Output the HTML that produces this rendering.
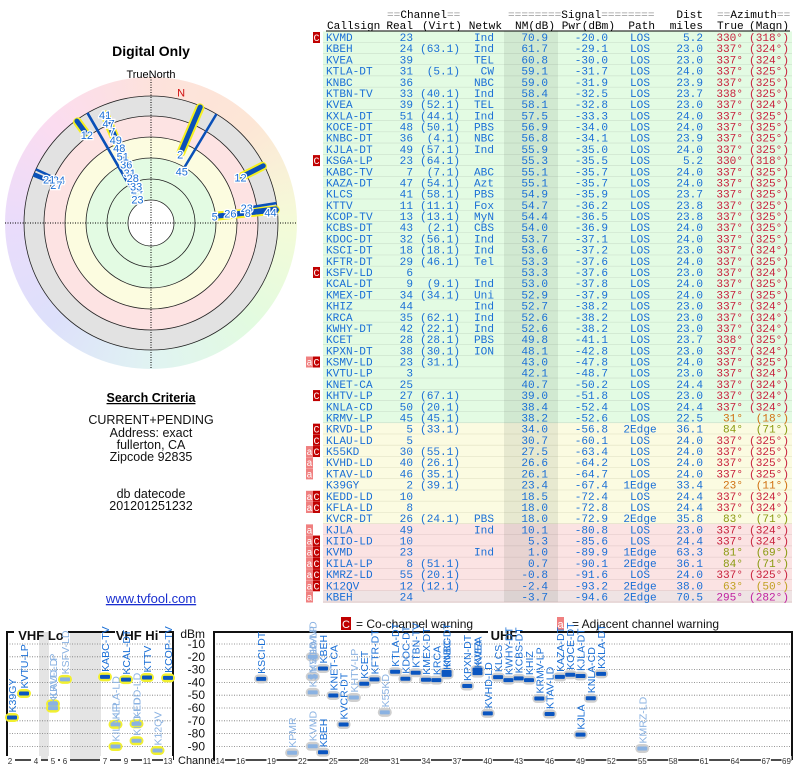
<!DOCTYPE html>
<html><head><meta charset="utf-8">
<style>
html,body{margin:0;padding:0;background:#fff;width:800px;height:768px;overflow:hidden}
svg{position:absolute;left:0;top:0}
.mono{font-family:"Liberation Mono",monospace;font-size:11.1px}
.sans{font-family:"Liberation Sans",sans-serif}
#rainbow{position:absolute;left:5px;top:77px;width:292px;height:292px;border-radius:50%;
background:conic-gradient(#fde2dc 0deg,#fde6d6 45deg,#f4fbd8 90deg,#e2fbe0 135deg,#e0f3f2 180deg,#dde0fb 225deg,#eadcfb 270deg,#fbdcf0 315deg,#fde2dc 360deg)}
</style></head>
<body>
<div id="rainbow"></div>
<svg id="main" width="800" height="768"></svg>
<script>
// ===== Table data =====
const callsigns=["KVMD","KBEH","KVEA","KTLA-DT","KNBC","KTBN-TV","KVEA","KXLA-DT","KOCE-DT","KNBC-DT","KJLA-DT","KSGA-LP","KABC-TV","KAZA-DT","KLCS","KTTV","KCOP-TV","KCBS-DT","KDOC-DT","KSCI-DT","KFTR-DT","KSFV-LD","KCAL-DT","KMEX-DT","KHIZ","KRCA","KWHY-DT","KCET","KPXN-DT","KSMV-LD","KVTU-LP","KNET-CA","KHTV-LP","KNLA-CD","KRMV-LP","KRVD-LP","KLAU-LD","K55KD","KVHD-LD","KTAV-LD","K39GY","KEDD-LD","KFLA-LD","KVCR-DT","KJLA","KIIO-LD","KVMD","KILA-LP","KMRZ-LD","K12QV","KBEH"];
const realCh=[23,24,39,31,36,33,39,51,48,36,49,23,7,47,41,11,13,43,32,18,29,6,9,34,44,35,42,28,38,23,3,25,27,50,45,5,5,30,40,46,2,10,8,26,49,10,23,8,55,12,24];
const virtCh=["","(63.1)","","(5.1)","","(40.1)","(52.1)","(44.1)","(50.1)","(4.1)","(57.1)","(64.1)","(7.1)","(54.1)","(58.1)","(11.1)","(13.1)","(2.1)","(56.1)","(18.1)","(46.1)","","(9.1)","(34.1)","","(62.1)","(22.1)","(28.1)","(30.1)","(31.1)","","","(67.1)","(20.1)","(45.1)","(33.1)","","(55.1)","(26.1)","(35.1)","(39.1)","","","(24.1)","","","","(51.1)","(20.1)","(12.1)",""];
const networks=["Ind","Ind","TEL","CW","NBC","Ind","TEL","Ind","PBS","NBC","Ind","","ABC","Azt","PBS","Fox","MyN","CBS","Ind","Ind","Tel","","Ind","Uni","Ind","Ind","Ind","PBS","ION","","","","","","","","","","","","","","","PBS","Ind","","Ind","","","",""];
const nmDb=[70.9,61.7,60.8,59.1,59.0,58.4,58.1,57.5,56.9,56.8,55.9,55.3,55.1,55.1,54.9,54.7,54.4,54.0,53.7,53.6,53.3,53.3,53.0,52.9,52.7,52.6,52.6,49.8,48.1,43.0,42.1,40.7,39.0,38.4,38.2,34.0,30.7,27.5,26.6,26.1,23.4,18.5,18.0,18.0,10.1,5.3,1.0,0.7,-0.8,-2.4,-3.7];
const pwrDbm=[-20.0,-29.1,-30.0,-31.7,-31.9,-32.5,-32.8,-33.3,-34.0,-34.1,-35.0,-35.5,-35.7,-35.7,-35.9,-36.2,-36.5,-36.9,-37.1,-37.2,-37.6,-37.6,-37.8,-37.9,-38.2,-38.2,-38.2,-41.1,-42.8,-47.8,-48.7,-50.2,-51.8,-52.4,-52.6,-56.8,-60.1,-63.4,-64.2,-64.7,-67.4,-72.4,-72.8,-72.9,-80.8,-85.6,-89.9,-90.1,-91.6,-93.2,-94.6];
const paths=["LOS","LOS","LOS","LOS","LOS","LOS","LOS","LOS","LOS","LOS","LOS","LOS","LOS","LOS","LOS","LOS","LOS","LOS","LOS","LOS","LOS","LOS","LOS","LOS","LOS","LOS","LOS","LOS","LOS","LOS","LOS","LOS","LOS","LOS","LOS","2Edge","LOS","LOS","LOS","LOS","1Edge","LOS","LOS","2Edge","LOS","LOS","1Edge","2Edge","LOS","2Edge","2Edge"];
const distMiles=[5.2,23.0,23.0,24.0,23.9,23.7,23.0,24.0,24.0,23.9,24.0,5.2,24.0,24.0,23.7,23.8,23.8,24.0,24.0,23.0,24.0,23.0,24.0,24.0,23.0,23.0,23.0,23.7,23.0,24.0,23.0,24.4,23.0,24.4,22.5,36.1,24.0,24.0,24.0,24.0,33.4,24.4,24.4,35.8,23.0,24.4,63.3,36.1,24.0,38.0,70.5];
const azTrue=[330,337,337,337,337,338,337,337,337,337,337,330,337,337,337,337,337,337,337,337,337,337,337,337,337,337,337,338,337,337,337,337,337,337,31,84,337,337,337,337,23,337,337,83,337,337,81,84,337,63,295];
const azMagn=[318,324,324,325,325,325,324,325,325,325,325,318,325,325,325,325,325,325,325,324,325,324,325,325,324,324,324,325,324,325,324,324,324,324,18,71,325,325,325,325,11,324,324,71,324,324,69,71,325,50,282];
const warnAdj=[0,0,0,0,0,0,0,0,0,0,0,0,0,0,0,0,0,0,0,0,0,0,0,0,0,0,0,0,0,1,0,0,0,0,0,0,0,1,1,1,0,1,1,0,1,1,1,1,1,1,1];
const warnCo=[1,0,0,0,0,0,0,0,0,0,0,1,0,0,0,0,0,0,0,0,0,1,0,0,0,0,0,0,0,1,0,0,1,0,0,1,1,1,0,0,0,1,1,0,0,1,1,1,1,1,0];

// ===== Bottom chart extra data (stations visible only in graph) =====
const extraLabels=["KPMR"];
const extraCh=[21];
const extraPwr=[-95];
const extraCo=[1];
const dbmTicks=[-10,-20,-30,-40,-50,-60,-70,-80,-90];
const vhfTickLabels=[2,4,5,6,7,9,11,13];
const uhfTickLabels=[14,16,19,22,25,28,31,34,37,40,43,46,49,52,55,58,61,64,67,69];

// ===== Polar extra stations (graph only) =====
const polarExtraLabel=["27","21","12","44"];
const polarExtraAz=[292,293,324,85];
const polarExtraNM=[-4,-4,-11,-25];

const NS="http://www.w3.org/2000/svg";
const svg=document.getElementById('main');
function mk(tag,attrs,parent){const e=document.createElementNS(NS,tag);for(const k in attrs)e.setAttribute(k,attrs[k]);(parent||svg).appendChild(e);return e;}
function txt(x,y,s,attrs,parent){const e=mk('text',Object.assign({x:x,y:y},attrs),parent);e.textContent=s;return e;}

// ===== Table =====
const rowY0=37, rowH=11.19;
const gT=mk('g',{});


function rowBg(i){return i<35?'#e3fbe3':(i<44?'#fbfbe1':(i<50?'#fbe3e3':'#efe3e4'));}
function azColor(a){if(a>=330&&a<=338)return '#c8203c';if(a===295)return '#c020a0';if(a===31||a===23)return '#d07010';if(a===63)return '#c0a020';return '#8a9a10';}
for(let i=0;i<callsigns.length;i++){
  const cy=rowY0+i*rowH;
  const r=mk('rect',{x:323,y:cy-rowH/2,width:469,height:rowH,fill:rowBg(i)},gT);
  
  
  mk('line',{x1:323,x2:792,y1:cy+rowH/2,y2:cy+rowH/2,stroke:i<35?'#c6dac6':(i<44?'#dcdcc0':'#dcc4c4'),'stroke-width':1},gT);
}
const nmShade=mk('rect',{x:504,y:rowY0-rowH/2,width:54,height:rowH*callsigns.length,fill:'rgba(60,80,60,0.1)'},gT);


const B='#1a6fd6';
for(let i=0;i<callsigns.length;i++){
  const y=rowY0+i*rowH+4;
  const g=mk('g',{class:'mono'},gT);
  
  
  txt(326,y,callsigns[i],{fill:B},g);
  txt(413,y,String(realCh[i]),{fill:B,'text-anchor':'end'},g);
  if(virtCh[i])txt(460,y,virtCh[i],{fill:B,'text-anchor':'end'},g);
  if(networks[i])txt(494,y,networks[i],{fill:B,'text-anchor':'end'},g);
  txt(548,y,nmDb[i].toFixed(1),{fill:B,'text-anchor':'end'},g);
  txt(608,y,pwrDbm[i].toFixed(1),{fill:B,'text-anchor':'end'},g);
  txt(640,y,paths[i],{fill:B,'text-anchor':'middle'},g);
  txt(703,y,distMiles[i].toFixed(1),{fill:B,'text-anchor':'end'},g);
  txt(743,y,azTrue[i]+'°',{fill:azColor(azTrue[i]),'text-anchor':'end'},g);
  txt(789,y,'('+azMagn[i]+'°)',{fill:azColor(azTrue[i]),'text-anchor':'end'},g);
  if(warnCo[i]){const c=mk('rect',{x:313,y:y-9,width:7,height:11,fill:'#c00000'},g);
    
    
    txt(316.5,y,'C',{fill:'#fff','text-anchor':'middle','font-size':'10px'},g);}
  if(warnAdj[i]){const a=mk('rect',{x:306,y:y-9,width:7,height:11,fill:'#f08080'},g);
    
    
    txt(309.5,y,'a',{fill:'#fff','text-anchor':'middle','font-size':'10px'},g);}
}
// headers
const gH=mk('g',{class:'mono'});


function hdr(x,y,parts,anchor){const t=mk('text',{x:x,y:y,'text-anchor':anchor||'start'},gH);parts.forEach(p=>{const s=mk('tspan',{fill:p[1]},t);s.textContent=p[0];});}
const GR='#999';
hdr(387,18,[['==',GR],['Channel','#000'],['==',GR]]);
hdr(508,18,[['========',GR],['Signal','#000'],['========',GR]]);
hdr(703,18,[['Dist','#000']],'end');
hdr(717,18,[['==',GR],['Azimuth','#000'],['==',GR]]);
hdr(327,29,[['Callsign','#000']]);
hdr(413,29,[['Real','#000']],'end');
hdr(422,29,[['(Virt)','#000']]);
hdr(502,29,[['Netwk','#000']],'end');
hdr(555,29,[['NM(dB)','#000']],'end');
hdr(615,29,[['Pwr(dBm)','#000']],'end');
hdr(655,29,[['Path','#000']],'end');
hdr(703,29,[['miles','#000']],'end');
hdr(717,29,[['True','#000']]);
hdr(789,29,[['(Magn)','#000']],'end');
mk('line',{x1:326,x2:790,y1:31,y2:31,stroke:'#000','stroke-width':1},gH);

// ===== Left text =====
const gL=mk('g',{class:'sans','text-anchor':'middle'});


const t1=txt(151,56,'Digital Only',{'font-size':'14px','font-weight':'bold'},gL);


txt(151,78,'TrueNorth',{'font-size':'11px'},gL);
const sc=txt(151,402,'Search Criteria',{'font-size':'12.5px','font-weight':'bold','text-decoration':'underline'},gL);


[['CURRENT+PENDING',424],['Address: exact',437],['fullerton, CA',449],['Zipcode 92835',461],['db datecode',498],['201201251232',510]].forEach(p=>txt(151,p[1],p[0],{'font-size':'12.5px',fill:'#111'},gL));
const lnk=txt(151,603,'www.tvfool.com',{'font-size':'13px',fill:'#1a2fd0','text-decoration':'underline'},gL);



// ===== Polar chart =====
const PCX=151,PCY=223;
const gP=mk('g',{});


[[127,'#e2e2e2'],[107,'#fde3e3'],[86,'#fcfce0'],[65,'#e3fbe3'],[23,'#ffffff']].forEach(c=>mk('circle',{cx:PCX,cy:PCY,r:c[0],fill:c[1]},gP));
[127,107,86,65,44,23].forEach(r=>mk('circle',{cx:PCX,cy:PCY,r:r,fill:'none',stroke:'#222','stroke-width':0.8},gP));
mk('line',{x1:PCX-146,x2:PCX+146,y1:PCY,y2:PCY,stroke:'#000','stroke-dasharray':'1,1.5','stroke-width':1},gP);
mk('line',{x1:PCX,x2:PCX,y1:PCY-146,y2:PCY+146,stroke:'#000','stroke-dasharray':'1,1.5','stroke-width':1},gP);
{const a=13*Math.PI/180;const n=txt(PCX+134*Math.sin(a),PCY-134*Math.cos(a)+4,'N',{fill:'#d01010','font-size':'11px','text-anchor':'middle',class:'sans'},gP);

}
function rOf(nm){return Math.max(26,Math.min(122,100-nm));}
function pt(az,r){const a=az*Math.PI/180;return [PCX+r*Math.sin(a),PCY-r*Math.cos(a)];}
const polarAll=[];
for(let i=0;i<callsigns.length;i++)polarAll.push({az:azTrue[i],nm:nmDb[i],lab:String(realCh[i]),vhf:realCh[i]<=13});
for(let i=0;i<polarExtraLabel.length;i++)polarAll.push({az:polarExtraAz[i],nm:polarExtraNM[i],lab:polarExtraLabel[i],vhf:+polarExtraLabel[i]<=13});
polarAll.forEach(s=>{if(!s.vhf)return;const a=pt(s.az,rOf(s.nm)),b=pt(s.az,s.az>330&&s.az<340?117:125);
  const h=mk('line',{x1:a[0],y1:a[1],x2:b[0],y2:b[1],stroke:'#f5f020','stroke-width':9,'stroke-linecap':'round'},gP);
  
  });
polarAll.forEach(s=>{const a=pt(s.az,rOf(s.nm)),b=pt(s.az,s.az>330&&s.az<340?117:126);
  const l=mk('line',{x1:a[0],y1:a[1],x2:b[0],y2:b[1],stroke:'#0a50b8','stroke-width':s.vhf?5:2.5,'stroke-linecap':'round'},gP);
  
  });
// labels, stacked along same azimuth (unique channels, within plot)
const usedR={}, seen={};
polarAll.slice().sort((p,q)=>rOf(p.nm)-rOf(q.nm)).forEach(s=>{
  const key=Math.round(s.az/3);
  if(seen[key+'_'+s.lab])return;
  let r=rOf(s.nm)-2;
  if(usedR[key]!==undefined&&r<usedR[key]+9)r=usedR[key]+9;
  if(r>120)return;
  seen[key+'_'+s.lab]=1;
  usedR[key]=r;
  const p=pt(s.az,r);
  const t=txt(p[0],p[1]+4,s.lab,{fill:'#1a6fd6','font-size':'11px','text-anchor':'middle',class:'sans',stroke:'#fff','stroke-width':2.5,'paint-order':'stroke'},gP);
  
  
});

// ===== Bottom signal chart =====
const gB=mk('g',{class:'sans'});


function yDbm(v){return 644+(-10-v)*1.28;}
function xCh(ch){if(ch<=4)return 12+(ch-2)*12;if(ch<=6)return 53+(ch-5)*12;if(ch<=13)return 105+(ch-7)*10.5;return 220+(ch-14)*10.3;}
function xTick(ch){if(ch<=4)return 10+(ch-2)*13;return xCh(ch);}
mk('rect',{x:39,y:632,width:10,height:127,fill:'#e4e4e4'},gB);
mk('rect',{x:70,y:632,width:31,height:127,fill:'#e4e4e4'},gB);
dbmTicks.forEach(v=>{const y=yDbm(v);
  mk('line',{x1:7,x2:173,y1:y,y2:y,stroke:'#777','stroke-dasharray':'1,1.5','stroke-width':0.8},gB);
  mk('line',{x1:214,x2:792,y1:y,y2:y,stroke:'#777','stroke-dasharray':'1,1.5','stroke-width':0.8},gB);
  const t=txt(205,y+4,String(v),{'font-size':'12px','text-anchor':'end',fill:'#111'},gB);
  
  });
txt(205,638,'dBm',{'font-size':'12px','text-anchor':'end',fill:'#111'},gB);
mk('path',{d:'M7,760 V632 H14 M68,632 H115 M159,632 H173 V760',fill:'none',stroke:'#111','stroke-width':2},gB);
mk('path',{d:'M214,760 V632 H488 M520,632 H792 V760',fill:'none',stroke:'#111','stroke-width':2},gB);
mk('line',{x1:7,x2:173,y1:760,y2:760,stroke:'#111','stroke-width':1.5},gB);
mk('line',{x1:214,x2:792,y1:760,y2:760,stroke:'#111','stroke-width':1.5},gB);
[['VHF Lo',41],['VHF Hi',137],['UHF',504]].forEach(p=>{const t=txt(p[1],640,p[0],{'font-size':'13px','font-weight':'bold','text-anchor':'middle',fill:'#111'},gB);
  
  });
txt(178,764,'Channel',{'font-size':'11px',fill:'#111'},gB);
vhfTickLabels.concat(uhfTickLabels).forEach(ch=>{const x=xTick(ch);
  mk('rect',{x:x-5,y:756,width:10,height:10,fill:'#fff'},gB);
  const t=txt(x,764,String(ch),{'font-size':'8px','text-anchor':'middle',fill:'#333'},gB);
  
  });
const lg=mk('g',{},gB);


mk('rect',{x:341,y:617,width:10,height:13,fill:'#c00000'},lg);
txt(346,628,'C',{'font-size':'11px',fill:'#fff','text-anchor':'middle'},lg);
txt(356,628,'= Co-channel warning',{'font-size':'12px',fill:'#111'},lg);
mk('rect',{x:557,y:617,width:7,height:13,fill:'#f08080'},lg);
txt(560.5,628,'a',{'font-size':'11px',fill:'#fff','text-anchor':'middle'},lg);
txt(572,628,'= Adjacent channel warning',{'font-size':'12px',fill:'#111'},lg);
const mChs=realCh.concat(extraCh), mPw=pwrDbm.concat(extraPwr), mCo=warnCo.concat(extraCo), mLab=callsigns.concat(extraLabels);
for(let i=0;i<mChs.length;i++){
  const x=xCh(mChs[i]),y=yDbm(mPw[i]);const vhf=mChs[i]<=13;
  const h=mk('rect',{x:x-7,y:y-4.5,width:14,height:9,rx:4.5,fill:vhf?'#f2f030':'#cfcfcf'},gB);
  
  
}
for(let i=0;i<mChs.length;i++){
  const x=xCh(mChs[i]),y=yDbm(mPw[i]);const col=mCo[i]?'#8ab2e2':'#0a55c0';
  const m=mk('rect',{x:x-5,y:y-2,width:10,height:4,rx:1,fill:col},gB);
  
  
  const t=txt(0,0,mLab[i],{'font-size':'10.5px',fill:mCo[i]?'#8ab2e2':'#1a6fd6',transform:'translate('+(x+4)+','+(y-5)+') rotate(-90)'},gB);
  
  
}
</script>
</body></html>
